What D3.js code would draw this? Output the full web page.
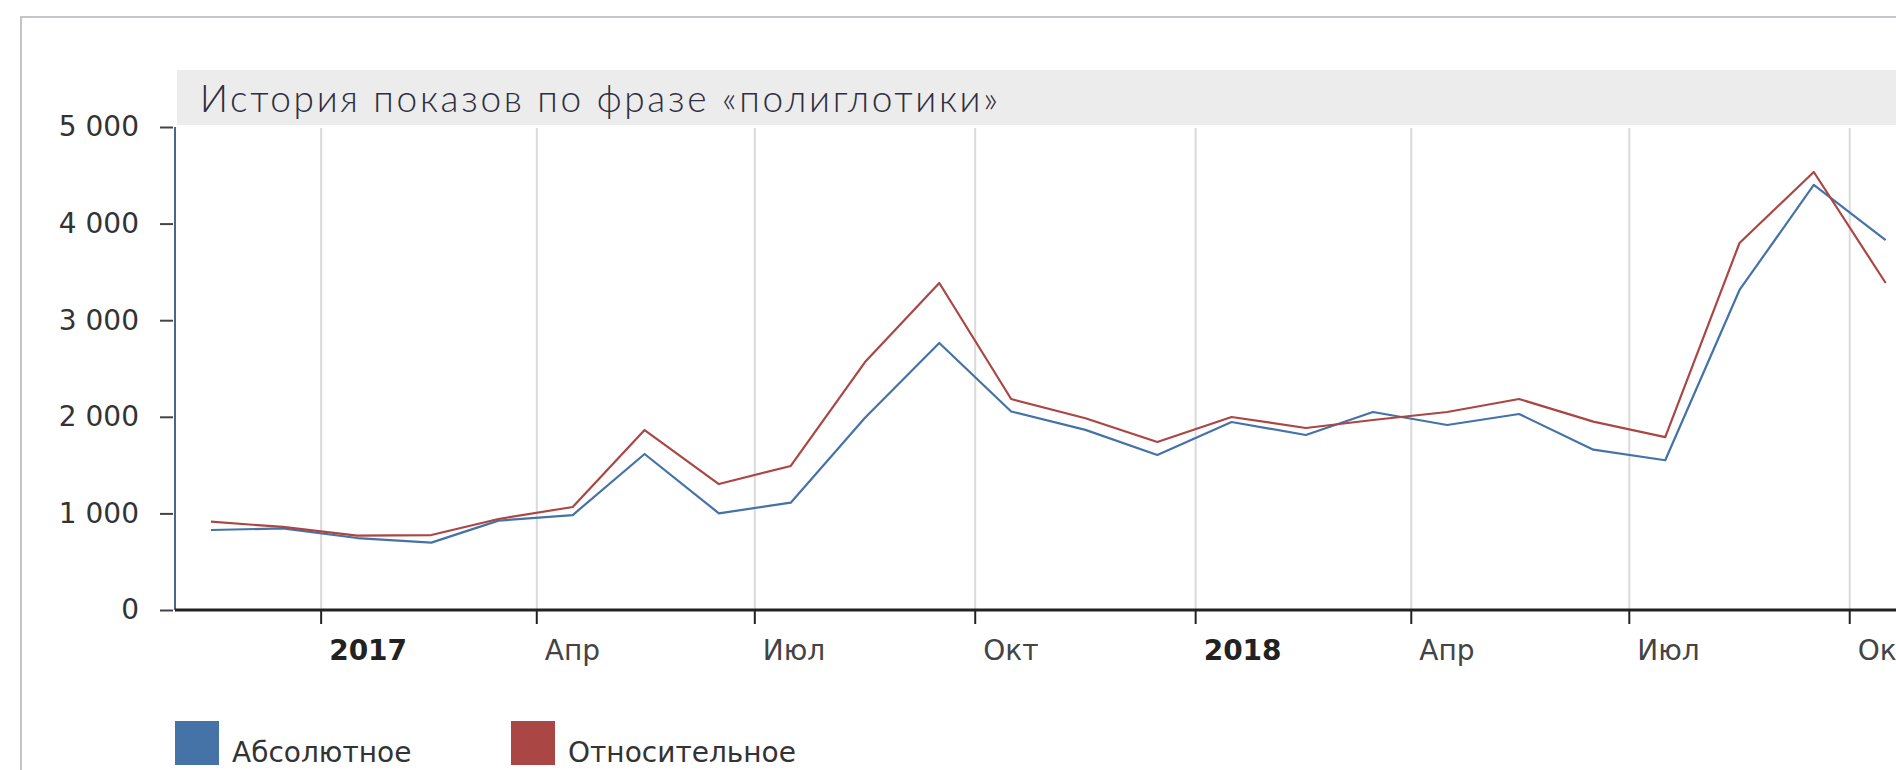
<!DOCTYPE html>
<html>
<head>
<meta charset="utf-8">
<script src="https://cdn.jsdelivr.net/npm/d3@7"></script>
<style>
	html, body { margin: 0; padding: 0; background: #fff; overflow: hidden; }
	svg { display: block; }
</style>
</head>
<body>
<div id="chart"></div>
<script>
(function () {

	var months = [
		"2016-11-16", "2016-12-16", "2017-01-16", "2017-02-16", "2017-03-16", "2017-04-16",
		"2017-05-16", "2017-06-16", "2017-07-16", "2017-08-16", "2017-09-16", "2017-10-16",
		"2017-11-16", "2017-12-16", "2018-01-16", "2018-02-16", "2018-03-16", "2018-04-16",
		"2018-05-16", "2018-06-16", "2018-07-16", "2018-08-16", "2018-09-16", "2018-10-16"
	];

	var absolute = [828, 845, 745, 697, 925, 983, 1615, 1001, 1111, 1990, 2764, 2055,
		1865, 1605, 1946, 1812, 2050, 1915, 2029, 1660, 1550, 3313, 4400, 3830];

	var relative = [914, 860, 770, 776, 942, 1066, 1863, 1304, 1491, 2567, 3385, 2184,
		1985, 1739, 1998, 1884, 1967, 2050, 2184, 1950, 1790, 3799, 4534, 3385];

	var tickDates = ["2017-01-01", "2017-04-01", "2017-07-01", "2017-10-01",
		"2018-01-01", "2018-04-01", "2018-07-01", "2018-10-01"];
	var tickLabels = ["2017", "Апр", "Июл", "Окт", "2018", "Апр", "Июл", "Окт"];
	var yTicks = [0, 1000, 2000, 3000, 4000, 5000];

	var seriesNames = ["Абсолютное", "Относительное"];
	var seriesColors = ["#4572A7", "#AA4643"];

	var title = "История показов по фразе «полиглотики»";

	var parse = d3.utcParse("%Y-%m-%d");

	var width = 1896, height = 770;
	var left = 175, top = 127, bottom = 610;

	var x = d3.scaleUtc()
		.domain([parse("2016-11-01"), parse("2018-11-01")])
		.range([left, 1924]);

	var y = d3.scaleLinear()
		.domain([0, 5000])
		.range([bottom, top]);

	var svg = d3.select("#chart")
		.append("svg")
		.attr("width", width)
		.attr("height", height);

	// outer frame
	svg.append("rect")
		.attr("x", 21).attr("y", 17)
		.attr("width", 2000).attr("height", 1000)
		.style("fill", "none")
		.style("stroke", "#c4c4cc")
		.style("stroke-width", 2);

	// title bar
	svg.append("rect")
		.attr("x", 177).attr("y", 70)
		.attr("width", 1800).attr("height", 55)
		.style("fill", "#ececec");

	svg.append("text")
		.attr("x", 200).attr("y", 112)
		.style("font-family", "'Lato Light', Lato, 'Open Sans', sans-serif")
		.style("font-weight", 300)
		.style("font-size", "37px")
		.style("letter-spacing", "2.7px")
		.style("fill", "#2e2e40")
		.text(title);

	var ticks = tickDates.map(parse);

	// vertical grid
	svg.append("g")
		.selectAll("line")
		.data(ticks)
		.enter()
		.append("line")
		.attr("x1", function(d) { return x(d); })
		.attr("x2", function(d) { return x(d); })
		.attr("y1", top + 1)
		.attr("y2", bottom)
		.style("stroke", "#dadada")
		.style("stroke-width", 2);

	// y axis
	var yAxis = svg.append("g")
		.attr("transform", "translate(" + left + ",0)")
		.call(d3.axisLeft(y)
			.tickValues(yTicks)
			.tickSize(0)
			.tickPadding(36)
			.tickFormat(function(d) { return d3.format(",")(d).replace(/,/g, " "); }));

	yAxis.select(".domain")
		.attr("d", "M0," + (top) + "V" + bottom)
		.style("stroke", "#4d6588")
		.style("stroke-width", 2);

	yAxis.selectAll(".tick text")
		.style("font-family", "'DejaVu Sans', Verdana, sans-serif")
		.style("font-size", "28px")
		.style("fill", "#333");

	yAxis.selectAll(".tick")
		.append("line")
		.attr("x1", -15).attr("x2", -2)
		.style("stroke", "#444")
		.style("stroke-width", 2);

	// lines
	var line = d3.line()
		.x(function(d) { return x(d.date); })
		.y(function(d) { return y(d.value); });

	[absolute, relative].forEach(function(values, k) {
		var pts = values.map(function(v, i) { return { date: parse(months[i]), value: v }; });
		svg.append("path")
			.datum(pts)
			.attr("d", line)
			.style("fill", "none")
			.style("stroke", seriesColors[k])
			.style("stroke-width", 2.2)
			.style("stroke-linejoin", "round");
	});

	// x axis
	svg.append("line")
		.attr("x1", left).attr("x2", width)
		.attr("y1", bottom).attr("y2", bottom)
		.style("stroke", "#222")
		.style("stroke-width", 3);

	var xt = svg.append("g")
		.selectAll("g")
		.data(ticks)
		.enter()
		.append("g")
		.attr("transform", function(d) { return "translate(" + x(d) + "," + bottom + ")"; });

	xt.append("line")
		.attr("y1", 0).attr("y2", 14)
		.style("stroke", "#222")
		.style("stroke-width", 2);

	xt.append("text")
		.attr("x", 8)
		.attr("y", 50)
		.style("font-family", "'DejaVu Sans', Verdana, sans-serif")
		.style("font-size", "28px")
		.style("font-weight", function(d, i) { return /^\d/.test(tickLabels[i]) ? "bold" : "normal"; })
		.style("fill", function(d, i) { return /^\d/.test(tickLabels[i]) ? "#222" : "#444"; })
		.text(function(d, i) { return tickLabels[i]; });

	// legend
	var legendX = [175, 511];
	var legend = svg.append("g")
		.selectAll("g")
		.data(seriesNames)
		.enter()
		.append("g")
		.attr("transform", function(d, i) { return "translate(" + legendX[i] + ",721)"; });

	legend.append("rect")
		.attr("width", 44).attr("height", 44)
		.style("fill", function(d, i) { return seriesColors[i]; });

	legend.append("text")
		.attr("x", 57).attr("y", 41)
		.style("font-family", "'DejaVu Sans', Verdana, sans-serif")
		.style("font-size", "28px")
		.style("fill", "#333")
		.text(function(d) { return d; });

}) ();
</script>
</body>
</html>
